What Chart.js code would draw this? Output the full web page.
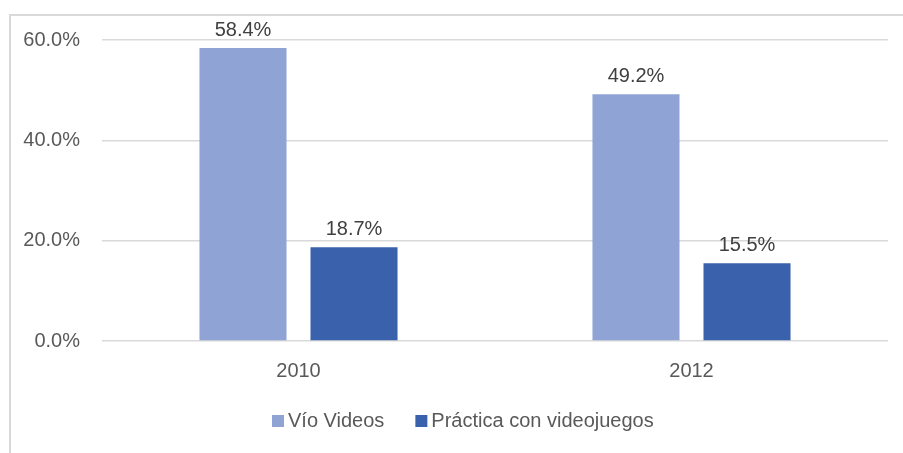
<!DOCTYPE html>
<html>
<head>
  <meta charset="utf-8">
  <title>Vío Videos / Práctica con videojuegos</title>
  <script src="https://cdn.jsdelivr.net/npm/chart.js"></script>
  <style>
    body { margin: 0; background: #fff; }
    .frame {
      position: absolute;
      left: 9px; top: 14px; right: 0; bottom: 0;
      border-left: 2px solid #d9d9d9;
      border-top: 2px solid #d9d9d9;
    }
    #chart { position: absolute; left: 0; top: 0; }
  </style>
</head>
<body>
  <div class="frame"></div>
  <canvas id="chart" width="903" height="453"></canvas>

  <script>
    const years = ['2010', '2012'];
    const vioVideos = [58.4, 49.2];
    const practicaVideojuegos = [18.7, 15.5];
    const yTicks = [0, 20, 40, 60];

    const FONT = 'Liberation Sans, Arial, sans-serif';
    const SIZE = 20;

    // value labels above each bar
    const barLabels = {
      id: 'barLabels',
      afterDatasetsDraw(chart) {
        const ctx = chart.ctx;
        ctx.save();
        ctx.font = SIZE + 'px ' + FONT;
        ctx.fillStyle = '#404040';
        ctx.textAlign = 'center';
        ctx.textBaseline = 'middle';
        chart.data.datasets.forEach((ds, i) => {
          chart.getDatasetMeta(i).data.forEach((bar, j) => {
            ctx.fillText(ds.data[j].toFixed(1) + '%', bar.x, bar.y - 18);
          });
        });
        ctx.restore();
      }
    };

    // legend row under the axis: small square, short gap, series name
    const bottomLegend = {
      id: 'bottomLegend',
      afterDraw(chart) {
        const ctx = chart.ctx;
        const box = 12, gap = 4, spacing = 31, startX = 272, cy = 421;
        ctx.save();
        ctx.font = SIZE + 'px ' + FONT;
        ctx.textBaseline = 'middle';
        let x = startX;
        chart.data.datasets.forEach(ds => {
          ctx.fillStyle = ds.backgroundColor;
          ctx.fillRect(x, cy - box / 2, box, box);
          x += box + gap;
          ctx.fillStyle = '#595959';
          ctx.fillText(ds.label, x, cy);
          x += ctx.measureText(ds.label).width + spacing;
        });
        ctx.restore();
      }
    };

    new Chart(document.getElementById('chart'), {
      type: 'bar',
      data: {
        labels: years,
        datasets: [
          { label: 'Vío Videos', data: vioVideos, backgroundColor: '#8fa3d5' },
          { label: 'Práctica con videojuegos', data: practicaVideojuegos, backgroundColor: '#3a62ac' }
        ]
      },
      options: {
        responsive: false,
        animation: false,
        categoryPercentage: 0.565,
        barPercentage: 0.784,
        layout: { padding: { top: 40, right: 15, left: 0, bottom: 0 } },
        scales: {
          x: {
            grid: { display: false, drawTicks: false },
            border: { display: false },
            ticks: { color: '#595959', font: { family: FONT, size: SIZE }, padding: 18 },
            afterFit(scale) { scale.height = 112; }
          },
          y: {
            min: 0,
            max: 60,
            afterBuildTicks(scale) { scale.ticks = yTicks.map(v => ({ value: v })); },
            grid: { color: '#d9d9d9', lineWidth: 1.5, drawTicks: false },
            border: { display: false },
            ticks: {
              color: '#595959',
              font: { family: FONT, size: SIZE },
              padding: 22,
              callback: v => v.toFixed(1) + '%'
            },
            afterFit(scale) { scale.width = 102; }
          }
        },
        plugins: {
          legend: { display: false },
          tooltip: { enabled: false }
        }
      },
      plugins: [barLabels, bottomLegend]
    });
  </script>
</body>
</html>
